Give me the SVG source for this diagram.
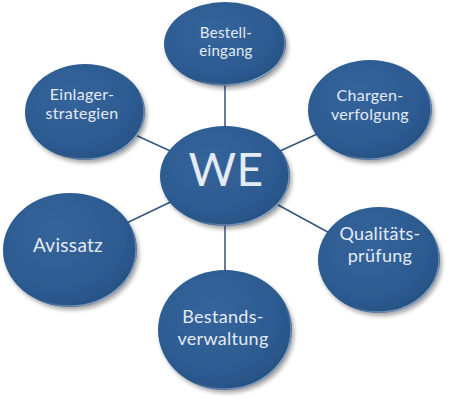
<svg xmlns="http://www.w3.org/2000/svg" width="451" height="400" viewBox="0 0 451 400">
  <defs>
    <radialGradient id="fillG" cx="0.4" cy="0.35" r="0.75">
      <stop offset="0" stop-color="#34649b"/>
      <stop offset="0.7" stop-color="#2c5a8f"/>
      <stop offset="1" stop-color="#244d7e"/>
    </radialGradient>
    <linearGradient id="rimG" x1="0" y1="0" x2="1" y2="1">
      <stop offset="0" stop-color="#ffffff" stop-opacity="0"/>
      <stop offset="0.6" stop-color="#ffffff" stop-opacity="0"/>
      <stop offset="1" stop-color="#c9d6e6" stop-opacity="0.9"/>
    </linearGradient>
    <filter id="shadow" x="-20%" y="-20%" width="150%" height="150%">
      <feGaussianBlur in="SourceAlpha" stdDeviation="2"/>
      <feOffset dx="2" dy="3" result="b"/>
      <feComponentTransfer><feFuncA type="linear" slope="0.35"/></feComponentTransfer>
      <feMerge><feMergeNode/><feMergeNode in="SourceGraphic"/></feMerge>
    </filter>
  </defs>
  <style>
    .node { fill: url(#fillG); filter: url(#shadow); }
    .rim { fill: none; stroke: url(#rimG); stroke-width: 1.5; }
    .lbl { font-family: Lato, "Open Sans", sans-serif; fill: #e4ebf3; text-anchor: middle; letter-spacing: 0.3px; }
    .con { stroke: #34557e; stroke-width: 1.5; fill: none; }
  </style>
  <rect width="451" height="400" fill="#ffffff"/>
  <g id="connectors">
    <line class="con" x1="225" y1="176" x2="225" y2="44"/>
    <line class="con" x1="225" y1="176" x2="370" y2="110"/>
    <line class="con" x1="225" y1="176" x2="379" y2="260"/>
    <line class="con" x1="225" y1="176" x2="225" y2="330"/>
    <line class="con" x1="225" y1="176" x2="70" y2="250"/>
    <line class="con" x1="225" y1="176" x2="85" y2="112"/>
  </g>
  <g id="bestelleingang">
    <ellipse class="node" cx="225" cy="44" rx="61" ry="42"/>
    <ellipse class="rim" cx="225" cy="44" rx="60" ry="41"/>
    <text class="lbl" font-size="15" x="226" y="38">Bestell-</text>
    <text class="lbl" font-size="15" x="226" y="56">eingang</text>
  </g>
  <g id="chargenverfolgung">
    <ellipse class="node" cx="370" cy="110" rx="62" ry="50"/>
    <ellipse class="rim" cx="370" cy="110" rx="61" ry="49"/>
    <text class="lbl" font-size="16" x="370" y="101">Chargen-</text>
    <text class="lbl" font-size="16" x="370" y="120">verfolgung</text>
  </g>
  <g id="qualitaetspruefung">
    <ellipse class="node" cx="379" cy="260" rx="61" ry="53"/>
    <ellipse class="rim" cx="379" cy="260" rx="60" ry="52"/>
    <text class="lbl" font-size="18" x="380" y="240">Qualitäts-</text>
    <text class="lbl" font-size="18" x="380" y="262">prüfung</text>
  </g>
  <g id="bestandsverwaltung">
    <ellipse class="node" cx="225" cy="330" rx="67" ry="60"/>
    <ellipse class="rim" cx="225" cy="330" rx="66" ry="59"/>
    <text class="lbl" font-size="18" x="223" y="323">Bestands-</text>
    <text class="lbl" font-size="18" x="223" y="345">verwaltung</text>
  </g>
  <g id="avissatz">
    <ellipse class="node" cx="70" cy="250" rx="67" ry="57"/>
    <ellipse class="rim" cx="70" cy="250" rx="66" ry="56"/>
    <text class="lbl" font-size="19" x="68" y="252">Avissatz</text>
  </g>
  <g id="einlagerstrategien">
    <ellipse class="node" cx="85" cy="112" rx="60" ry="48"/>
    <ellipse class="rim" cx="85" cy="112" rx="59" ry="47"/>
    <text class="lbl" font-size="16" x="82" y="100">Einlager-</text>
    <text class="lbl" font-size="16" x="82" y="119">strategien</text>
  </g>
  <g id="we">
    <ellipse class="node" cx="225" cy="176" rx="65" ry="50"/>
    <ellipse class="rim" cx="225" cy="176" rx="64" ry="49"/>
    <text class="lbl" font-size="46" letter-spacing="4" x="226" y="186">WE</text>
  </g>
</svg>
